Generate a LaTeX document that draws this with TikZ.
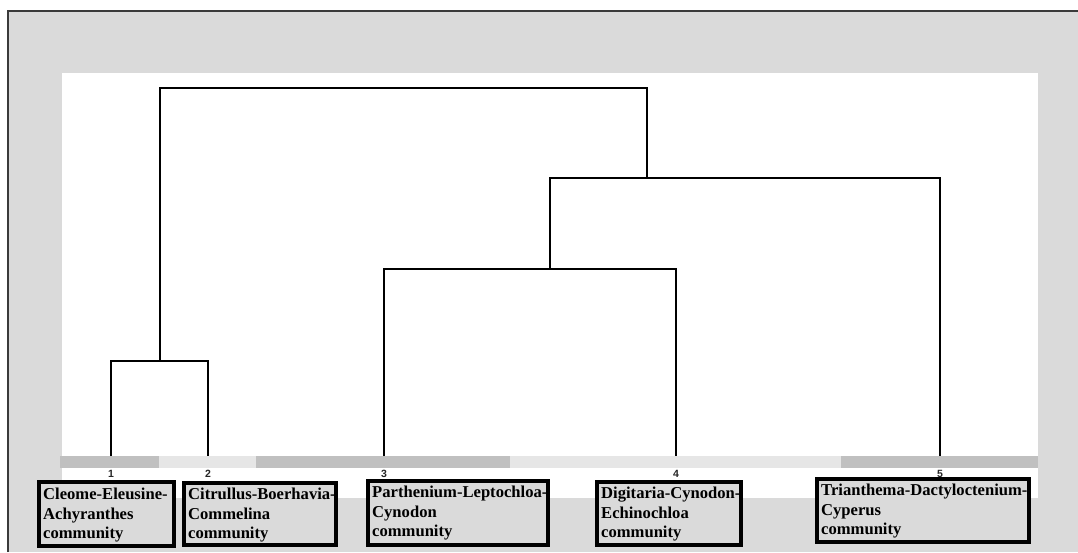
\documentclass[tikz,border=0pt]{standalone}
\usepackage{fontspec}
\setmainfont{Liberation Serif}
\newfontfamily\numfont{Liberation Sans}
\definecolor{bg}{HTML}{DADADA}
\definecolor{bandD}{HTML}{C0C0C0}
\definecolor{bandL}{HTML}{E6E6E6}
\definecolor{frame}{HTML}{3A3A3A}
\begin{document}
\begin{tikzpicture}[x=1pt,y=-1pt,
  branch/.style={draw=black,line width=1.7pt},
  commbox/.style={draw=black,line width=4pt,fill=bg},
  commtext/.style={anchor=north west,inner sep=0pt,align=left,
     font=\fontsize{16.6}{19.5}\selectfont\bfseries},
  leafnum/.style={font=\numfont\fontsize{10.5}{10.5}\selectfont\bfseries,text=black!85,inner sep=0pt}]
\useasboundingbox (0,0) rectangle (1078,552);
\fill[white] (0,0) rectangle (1078,552);
% outer frame
\fill[bg] (8,11) rectangle (1078,552);
\draw[frame,line width=1.6pt] (8,552) -- (8,11) -- (1078,11);
% inner white panel
\fill[white] (62,73) rectangle (1038,498);
% band
\fill[bandD] (60,456) rectangle (159,468);
\fill[bandL] (159,456) rectangle (256,468);
\fill[bandD] (256,456) rectangle (510,468);
\fill[bandL] (510,456) rectangle (841,468);
\fill[bandD] (841,456) rectangle (1038,468);
% leaves and merges
\coordinate (l1) at (111,456);
\coordinate (l2) at (208,456);
\coordinate (l3) at (384,456);
\coordinate (l4) at (676,456);
\coordinate (l5) at (940,456);
\coordinate (c12) at (160,361);
\coordinate (c34) at (550,269);
\coordinate (c345) at (647,178);
\coordinate (root) at (403,88);
\draw[branch] (l1) |- (c12) -| (l2);
\draw[branch] (l3) |- (c34) -| (l4);
\draw[branch] (c34) |- (c345) -| (l5);
\draw[branch] (c12) |- (root) -| (c345);
% leaf numbers
\node[leafnum] (n1) at (111,474) {1};
\node[leafnum] (n2) at (208,474) {2};
\node[leafnum] (n3) at (384,474) {3};
\node[leafnum] (n4) at (676,474) {4};
\node[leafnum] (n5) at (940,474) {5};
% community boxes
\draw[commbox] (39,482) rectangle (174,546);
\node[commtext] (b1) at (43,488) {Cleome-Eleusine-\\Achyranthes\\community};
\draw[commbox] (184,483) rectangle (336,545);
\node[commtext] (b2) at (188,488) {Citrullus-Boerhavia-\\Commelina\\community};
\draw[commbox] (368,481) rectangle (548,545);
\node[commtext] (b3) at (372,486) {Parthenium-Leptochloa-\\Cynodon\\community};
\draw[commbox] (597,482) rectangle (741,545);
\node[commtext] (b4) at (601,487) {Digitaria-Cynodon-\\Echinochloa\\community};
\draw[commbox] (817,479) rectangle (1029,542);
\node[commtext] (b5) at (821,484) {Trianthema-Dactyloctenium-\\Cyperus\\community};
\end{tikzpicture}
\end{document}
